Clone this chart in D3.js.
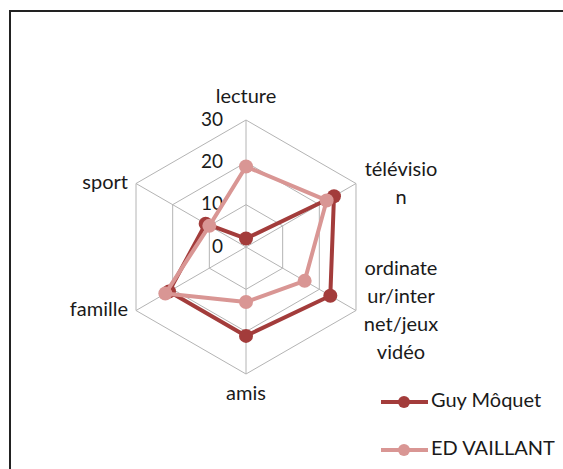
<!DOCTYPE html>
<html>
<head>
<meta charset="utf-8">
<script src="https://cdn.jsdelivr.net/npm/d3@7/dist/d3.min.js"></script>
<style>
    html, body { margin: 0; padding: 0; background: #fff; }
    #canvas { width: 563px; height: 469px; overflow: hidden; }
    text { font-family: Lato, "Noto Sans", sans-serif; fill: #1a1a1a; }
</style>
</head>
<body>
<div id="canvas"></div>
<script>
var categories = ['lecture', 'télévision', 'ordinateur/internet/jeux vidéo', 'amis', 'famille', 'sport'];
/* Excel wraps the long names inside a narrow box */
var categoryLines = [['lecture'], ['télévisio', 'n'], ['ordinate', 'ur/inter', 'net/jeux', 'vidéo'], ['amis'], ['famille'], ['sport']];
var seriesNames = ['Guy Môquet', 'ED VAILLANT'];
var guyMoquet = [2, 24, 23, 21, 21, 11];
var edVaillant = [19, 22, 16, 13, 22, 10];
var ticks = [0, 10, 20, 30];
var colors = ['#A33C3B', '#D99694'];

function init()
{
    var wrapper = d3.select('#canvas');
    var width = 563;
    var height = 469;

    var svg = wrapper.append('svg');
    svg.attr('width', width)
       .attr('height', height);

    svg.append('rect')
       .attr('x', 10)
       .attr('y', 11)
       .attr('width', width + 20)
       .attr('height', height + 20)
       .attr('fill', 'none')
       .attr('stroke', '#222')
       .attr('stroke-width', 2);

    var cx = 246, cy = 247, R = 127;
    var r = d3.scaleLinear().domain([0, 30]).range([0, R]);
    var angle = d3.scaleLinear().domain([0, categories.length]).range([0, 2 * Math.PI]);

    function pt(i, v)
    {
        var a = angle(i);
        return [cx + r(v) * Math.sin(a), cy - r(v) * Math.cos(a)];
    }

    var g = svg.append('g');

    /* Сетка: кольца и лучи */
    ticks.slice(1).forEach(function(t) {
        g.append('polygon')
         .attr('points', categories.map(function(c, i) { return pt(i, t).join(','); }).join(' '))
         .attr('fill', 'none')
         .attr('stroke', '#B4B4B4')
         .attr('stroke-width', 1);
    });

    categories.forEach(function(c, i) {
        var p = pt(i, 30);
        g.append('line')
         .attr('x1', cx).attr('y1', cy)
         .attr('x2', p[0]).attr('y2', p[1])
         .attr('stroke', '#B4B4B4')
         .attr('stroke-width', 1);
    });

    /* Подписи шкалы */
    g.selectAll('.tick')
     .data(ticks)
     .enter()
         .append('text')
         .attr('class', 'tick')
         .attr('x', cx - 23)
         .attr('y', function(d) { return cy - r(d) + 1; })
         .attr('text-anchor', 'end')
         .attr('dominant-baseline', 'middle')
         .style('font-size', '19px')
         .text(function(d) { return d; });

    /* Подписи категорий */
    var lineHeight = 28;
    categoryLines.forEach(function(lines, i) {
        var p = pt(i, 30);
        var s = Math.sin(angle(i));
        var x, anchor, y0;
        if (Math.abs(s) < 0.01)
        {
            x = p[0];
            anchor = 'middle';
            y0 = p[1] < cy ? p[1] - 22 : p[1] + 21;
        }
        else if (s > 0)
        {
            x = p[0] + 45;
            anchor = 'middle';
            y0 = p[1] - (lines.length - 1) * lineHeight / 2 + 1;
        }
        else
        {
            x = p[0] - 8;
            anchor = 'end';
            y0 = p[1] - (lines.length - 1) * lineHeight / 2;
        }
        var t = g.append('text')
                 .attr('text-anchor', anchor)
                 .style('font-size', '20px');
        lines.forEach(function(line, k) {
            t.append('tspan')
             .attr('x', x)
             .attr('y', y0 + k * lineHeight)
             .attr('dominant-baseline', 'middle')
             .text(line);
        });
    });

    /* Серии */
    var line = d3.line().curve(d3.curveLinearClosed);
    [guyMoquet, edVaillant].forEach(function(values, s) {
        var pts = values.map(function(v, i) { return pt(i, v); });
        g.append('path')
         .attr('d', line(pts))
         .attr('fill', 'none')
         .attr('stroke', colors[s])
         .attr('stroke-width', 4)
         .attr('stroke-linejoin', 'round');
        g.selectAll('.m' + s)
         .data(pts)
         .enter()
             .append('circle')
             .attr('cx', function(d) { return d[0]; })
             .attr('cy', function(d) { return d[1]; })
             .attr('r', 7)
             .attr('fill', colors[s]);
    });

    /* Легенда */
    seriesNames.forEach(function(name, s) {
        var y = 402 + s * 48;
        var leg = svg.append('g');
        leg.append('line')
           .attr('x1', 381).attr('y1', y)
           .attr('x2', 428).attr('y2', y)
           .attr('stroke', colors[s])
           .attr('stroke-width', 4);
        leg.append('circle')
           .attr('cx', 404).attr('cy', y)
           .attr('r', 6)
           .attr('fill', colors[s]);
        leg.append('text')
           .attr('x', 431).attr('y', y)
           .attr('dominant-baseline', 'middle')
           .style('font-size', '20px')
           .text(name);
    });
}

init();
</script>
</body>
</html>
